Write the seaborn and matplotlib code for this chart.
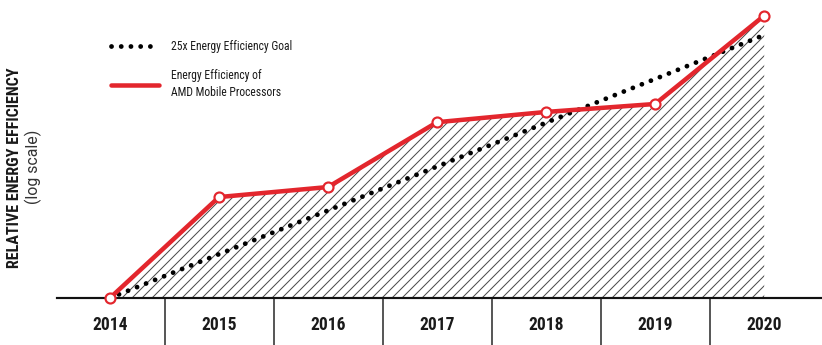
import matplotlib
matplotlib.use("Agg")
import matplotlib.pyplot as plt
from matplotlib.lines import Line2D
import seaborn as sns
import pandas as pd

years = ["2014", "2015", "2016", "2017", "2018", "2019", "2020"]
goal_values = [1.0, 1.71, 2.92, 5.0, 8.55, 14.6, 25.0]
amd_values = [1.0, 3.44, 3.89, 8.6, 9.75, 10.75, 31.7]
goal_label = "25x Energy Efficiency Goal"
amd_label = "Energy Efficiency of\nAMD Mobile Processors"

sns.set_theme(style="white")
FAM = ["Roboto Condensed", "Roboto", "DejaVu Sans"]
plt.rcParams["font.family"] = FAM
plt.rcParams["hatch.linewidth"] = 0.6

DPI = 120
fig = plt.figure(figsize=(822 / DPI, 345 / DPI), dpi=DPI)
ax = fig.add_axes([57 / 822, 47 / 345, 1 - 57 / 822, (298 - 5) / 345])

df = pd.DataFrame({"pos": range(len(years)), "year": years,
                   "goal": goal_values, "amd": amd_values})

RED = "#e3262d"
DOTS = (0, (0.01, 2.0))

ax.fill_between(df["pos"], 1, df["amd"], facecolor="none", edgecolor="#4a4a4a",
                hatch="////", linewidth=0, zorder=1)

sns.lineplot(data=df, x="pos", y="goal", ax=ax, color="black", linewidth=2.9,
             linestyle=DOTS, dash_capstyle="round", zorder=2)
sns.lineplot(data=df, x="pos", y="amd", ax=ax, color=RED, linewidth=2.7,
             marker="o", markersize=6, markerfacecolor="white",
             markeredgecolor=RED, markeredgewidth=1.3, zorder=3, clip_on=False)

ax.set_yscale("log")
ax.set_ylim(1, 36.1)
ax.set_xlim(-0.486, 6.53)

ax.set_xticks(range(len(years)))
ax.set_xticklabels(years, fontsize=10.5, fontweight="bold", color="#1a1a1a")
ax.tick_params(axis="x", length=0, pad=10.5)
ax.set_yticks([])
ax.set_yticks([], minor=True)
ax.set_xlabel("")
ax.set_ylabel("")

for s in ["left", "top", "right"]:
    ax.spines[s].set_visible(False)
ax.spines["bottom"].set_linewidth(1.3)
ax.spines["bottom"].set_color("#111111")

seps = [i + 0.5 for i in range(len(years) - 1)]
ax.vlines(seps, 0, -47 / 293, transform=ax.get_xaxis_transform(),
          colors="#222222", linewidth=0.9, clip_on=False)

handles = [
    Line2D([], [], color="black", linewidth=2.9, linestyle=DOTS,
           dash_capstyle="round"),
    Line2D([], [], color=RED, linewidth=2.7),
]
leg = fig.legend(handles, [goal_label, amd_label], loc="upper left",
                 bbox_to_anchor=(111 / 822, 1 - 40 / 345), frameon=False,
                 fontsize=7, handlelength=4.1, handletextpad=1.05,
                 labelspacing=1.35, borderpad=0, borderaxespad=0,
                 labelcolor="#1a1a1a")
for t in leg.get_texts():
    t.set_linespacing(1.45)

fig.text(15 / 822, 1 - 168 / 345, "RELATIVE ENERGY EFFICIENCY", rotation=90,
         ha="center", va="center", fontsize=9.7, fontweight="bold", color="#1a1a1a")
fig.text(33 / 822, 1 - 167 / 345, "(log scale)", rotation=90,
         ha="center", va="center", fontsize=9.5, color="#333333",
         family=["Roboto", "DejaVu Sans"])

fig.savefig("out.png", dpi=DPI)
